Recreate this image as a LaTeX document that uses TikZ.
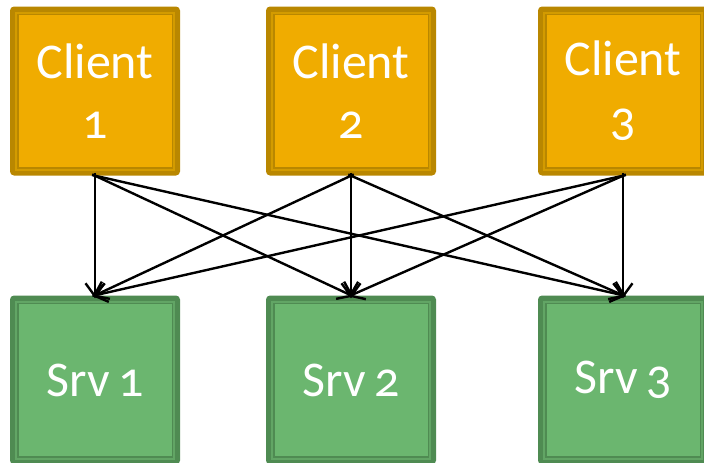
\documentclass[tikz,border=0pt]{standalone}
\usepackage{fontspec}
\setmainfont[Numbers=OldStyle]{Carlito}
\usetikzlibrary{arrows.meta}

\definecolor{goldfill}{HTML}{F0AC00}
\definecolor{golddark}{HTML}{B98700}
\definecolor{goldmid}{HTML}{D39B00}
\definecolor{greenfill}{HTML}{6BB66F}
\definecolor{greendark}{HTML}{4F8B52}
\definecolor{greenmid}{HTML}{62A565}

\tikzset{
  % framed box: outer dark band, lighter strip, thin dark line, then the fill
  framebox/.style n args={3}{
    rectangle, rounded corners=4pt, fill=#1,
    minimum width=170pt, minimum height=169pt, inner sep=0pt,
    text=white, align=center,
    font=\fontsize{50pt}{60pt}\selectfont,
    path picture={
      \fill[#2, sharp corners]
        ([shift={(5pt,-5pt)}]path picture bounding box.north west) rectangle
        ([shift={(-5pt,5pt)}]path picture bounding box.south east);
      \fill[#1, sharp corners]
        ([shift={(7pt,-7pt)}]path picture bounding box.north west) rectangle
        ([shift={(-7pt,7pt)}]path picture bounding box.south east);
      \fill[#3, sharp corners]
        ([shift={(8.5pt,-8.5pt)}]path picture bounding box.north west) rectangle
        ([shift={(-8.5pt,8.5pt)}]path picture bounding box.south east);
    }
  },
  clientbox/.style={framebox={golddark}{goldmid}{goldfill}},
  serverbox/.style={framebox={greendark}{greenmid}{greenfill}},
  link/.style={draw=black, line width=2.4pt,
    -{Straight Barb[length=13pt,width=19pt]},
    shorten <=-3pt, shorten >=-3pt}
}

\begin{document}
\begin{tikzpicture}[x=1pt, y=-1pt]
  \useasboundingbox (0,0) rectangle (704,463);
  \clip (0,0) rectangle (704,463);

  % clients
  \node[clientbox] (c1) at (95,91)  {Client\\1};
  \node[clientbox] (c2) at (351,91) {Client\\2};
  \node[clientbox] (c3) at (623,91) {Client\\3};

  % servers
  \node[serverbox] (s1) at (95,380)  {Srv\,1};
  \node[serverbox] (s2) at (351,380) {Srv\,2};
  \node[serverbox] (s3) at (623,380) {Srv\,3};

  % every client talks to every server
  \foreach \c in {c1,c2,c3}
    \foreach \s in {s1,s2,s3}
      \draw[link] (\c.south) -- (\s.north);
\end{tikzpicture}
\end{document}
